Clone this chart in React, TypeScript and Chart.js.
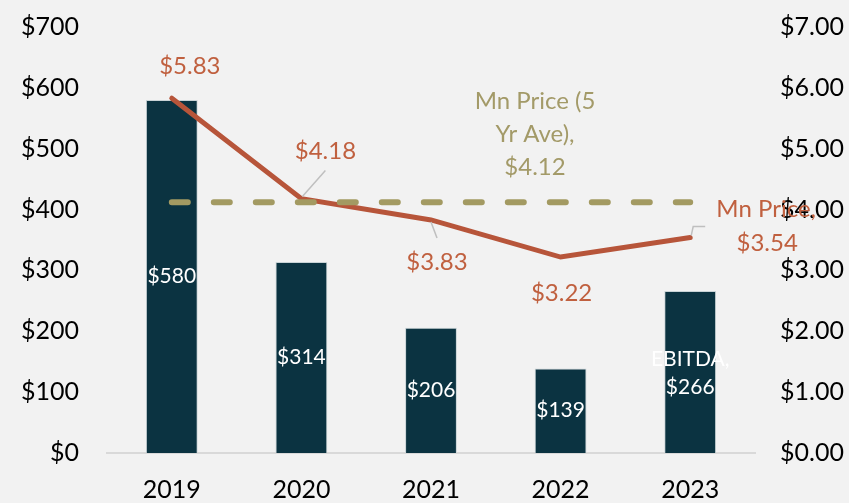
import React, { useEffect, useRef } from "react";
import { Chart, registerables } from "chart.js";

Chart.register(...registerables);

const years = ["2019", "2020", "2021", "2022", "2023"];
const ebitda = [580, 314, 206, 139, 266];
const mnPrice = [5.83, 4.18, 3.83, 3.22, 3.54];
const mnPriceAvg = [4.12, 4.12, 4.12, 4.12, 4.12];
const leftTicks = [0, 100, 200, 300, 400, 500, 600, 700];
const rightTicks = [0, 1, 2, 3, 4, 5, 6, 7];

const FONT = "Lato, 'Open Sans', sans-serif";
const BG = "#f2f2f2";
const BAR = "#0b3341";
const LINE = "#b7553a";
const LINE_TXT = "#c0603f";
const OLIVE = "#a39a62";
const OLIVE_TXT = "#a39a68";

const labelsPlugin = {
  id: "customLabels",
  beforeDraw(chart: any) {
    const ctx = chart.ctx;
    ctx.save();
    ctx.fillStyle = BG;
    ctx.fillRect(0, 0, chart.width, chart.height);
    ctx.restore();
  },
  afterDatasetsDraw(chart: any) {
    const ctx = chart.ctx;
    const x = chart.scales.x;
    const y = chart.scales.y;
    const y1 = chart.scales.y1;
    ctx.save();
    ctx.textAlign = "center";
    ctx.textBaseline = "middle";

    // bar labels (white, centered in bar)
    ctx.font = `21px ${FONT}`;
    ctx.fillStyle = "#ffffff";
    ebitda.forEach((v, i) => {
      const px = x.getPixelForValue(i);
      const mid = (y.getPixelForValue(v) + y.getPixelForValue(0)) / 2;
      if (i === ebitda.length - 1) {
        ctx.fillText("EBITDA,", px, mid - 13);
        ctx.fillText("$" + v, px, mid + 15);
      } else {
        ctx.fillText("$" + v, px, mid);
      }
    });

    // leader lines
    ctx.strokeStyle = "#bfbfbf";
    ctx.lineWidth = 1.5;
    const p1x = x.getPixelForValue(1), p1y = y1.getPixelForValue(mnPrice[1]);
    ctx.beginPath(); ctx.moveTo(p1x + 1, p1y - 2); ctx.lineTo(p1x + 24, p1y - 28); ctx.stroke();
    const p2x = x.getPixelForValue(2), p2y = y1.getPixelForValue(mnPrice[2]);
    ctx.beginPath(); ctx.moveTo(p2x, p2y + 2); ctx.lineTo(p2x + 6, p2y + 18); ctx.stroke();
    const p4x = x.getPixelForValue(4), p4y = y1.getPixelForValue(mnPrice[4]);
    ctx.beginPath(); ctx.moveTo(p4x + 1, p4y - 2); ctx.lineTo(p4x + 3, p4y - 11); ctx.lineTo(p4x + 15, p4y - 11); ctx.stroke();

    // line labels
    ctx.font = `24px ${FONT}`;
    ctx.fillStyle = LINE_TXT;
    const offs = [
      [18, -32],
      [24, -47],
      [6, 42],
      [1, 36],
    ];
    for (let i = 0; i < 4; i++) {
      const px = x.getPixelForValue(i);
      const py = y1.getPixelForValue(mnPrice[i]);
      ctx.fillText("$" + mnPrice[i].toFixed(2), px + offs[i][0], py + offs[i][1]);
    }
    ctx.fillText("Mn Price,", p4x + 76, p4y - 28);
    ctx.fillText("$" + mnPrice[4].toFixed(2), p4x + 77, p4y + 6);

    // average label
    ctx.fillStyle = OLIVE_TXT;
    const ax = x.getPixelForValue(2) + 104;
    const ay = y1.getPixelForValue(mnPriceAvg[2]);
    ctx.fillText("Mn Price (5", ax, ay - 101);
    ctx.fillText("Yr Ave),", ax, ay - 68);
    ctx.fillText("$" + mnPriceAvg[2].toFixed(2), ax, ay - 35);

    ctx.restore();
  },
};

export default function App() {
  const ref = useRef<HTMLCanvasElement>(null);
  useEffect(() => {
    document.body.style.margin = "0";
    document.body.style.background = BG;
    const chart = new Chart(ref.current!, {
      type: "bar",
      data: {
        labels: years,
        datasets: [
          {
            type: "bar",
            label: "EBITDA",
            data: ebitda,
            backgroundColor: BAR,
            borderColor: "#c9d3d6",
            borderWidth: 1,
            barPercentage: 0.8,
            categoryPercentage: 0.5,
            yAxisID: "y",
            order: 3,
          } as any,
          {
            type: "line",
            label: "Mn Price",
            data: mnPrice,
            borderColor: LINE,
            borderWidth: 5,
            pointRadius: 0,
            tension: 0,
            borderCapStyle: "round",
            yAxisID: "y1",
            order: 2,
          } as any,
          {
            type: "line",
            label: "Mn Price (5 Yr Ave)",
            data: mnPriceAvg,
            borderColor: OLIVE,
            borderWidth: 6,
            borderDash: [16, 26],
            borderCapStyle: "round",
            pointRadius: 0,
            yAxisID: "y1",
            order: 1,
          } as any,
        ],
      },
      options: {
        animation: false,
        responsive: false,
        layout: { padding: { top: 27, left: 0, right: 0, bottom: 0 } },
        plugins: { legend: { display: false }, tooltip: { enabled: false } },
        scales: {
          x: {
            grid: { display: false, drawTicks: false },
            border: { display: true, color: "#d9d9d9", width: 2 },
            ticks: { color: "#000", font: { family: FONT, size: 25 }, padding: 22 },
            afterFit: (s: any) => { s.height = 50; },
          },
          y: {
            position: "left",
            min: 0,
            max: 700,
            afterBuildTicks: (s: any) => { s.ticks = leftTicks.map((v) => ({ value: v })); },
            grid: { display: false, drawTicks: false },
            border: { display: false },
            ticks: {
              color: "#000",
              font: { family: FONT, size: 25 },
              padding: 28,
              callback: (v: any) => "$" + v,
            },
            afterFit: (s: any) => { s.width = 107; s.paddingTop = 0; s.paddingBottom = 0; },
          },
          y1: {
            position: "right",
            min: 0,
            max: 7,
            afterBuildTicks: (s: any) => { s.ticks = rightTicks.map((v) => ({ value: v })); },
            grid: { display: false, drawTicks: false },
            border: { display: false },
            ticks: {
              color: "#000",
              font: { family: FONT, size: 25 },
              padding: 25,
              callback: (v: any) => "$" + Number(v).toFixed(2),
            },
            afterFit: (s: any) => { s.width = 94; s.paddingTop = 0; s.paddingBottom = 0; },
          },
        },
      },
      plugins: [labelsPlugin],
    });
    return () => chart.destroy();
  }, []);
  return (
    <div style={{ width: 849, height: 503, background: BG }}>
      <canvas ref={ref} width={849} height={503} style={{ display: "block" }} />
    </div>
  );
}
